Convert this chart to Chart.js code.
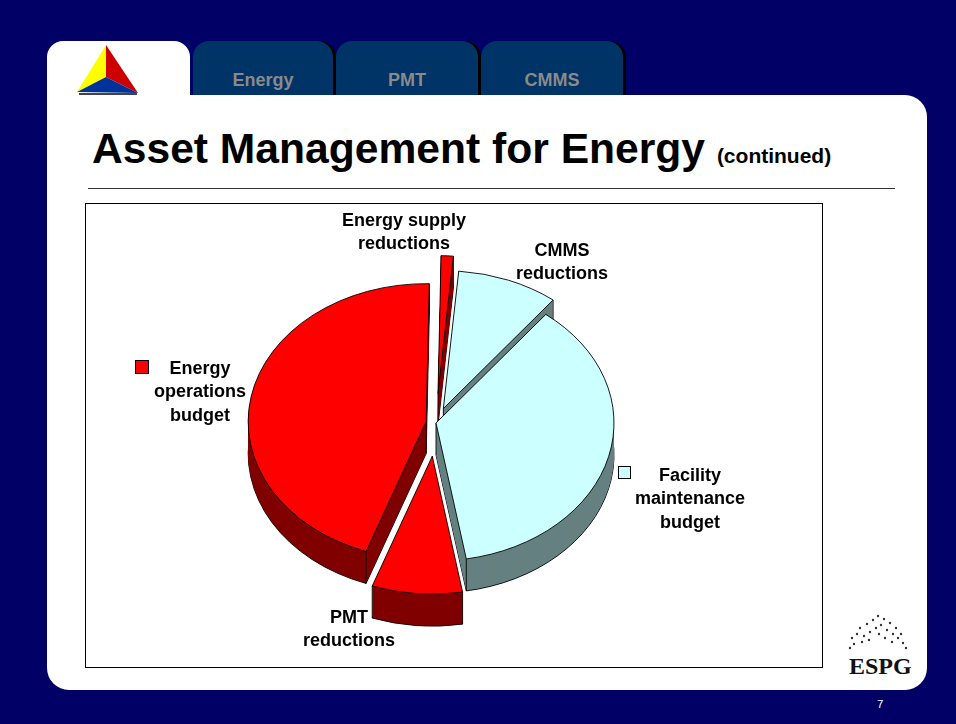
<!DOCTYPE html>
<html>
<head>
<meta charset="utf-8">
<script src="https://cdn.jsdelivr.net/npm/chart.js@4.4.0/dist/chart.umd.min.js"></script>
<style>
	body { margin: 0; width: 956px; height: 724px; background: #000066; position: relative; overflow: hidden; font-family: "Liberation Sans", Arial, sans-serif; }
	.tab { position: absolute; top: 41px; height: 54px; background: #003366; border-radius: 16px 16px 0 0; box-shadow: 3px 0 0 #000; color: #8a8a8a; font-weight: bold; font-size: 18px; line-height: 20px; text-align: center; box-sizing: border-box; padding-top: 29px; }
	.home { position: absolute; left: 47px; top: 41px; width: 143px; height: 60px; background: #fff; border-radius: 16px 16px 0 0; }
	.panel { position: absolute; left: 47px; top: 95px; width: 880px; height: 595px; background: #fff; border-radius: 0 22px 22px 22px; }
	.title { position: absolute; left: 92px; top: 124px; font-size: 42.6px; line-height: 48px; font-weight: bold; color: #000; white-space: nowrap; }
	.title span { font-size: 21px; }
	.rule { position: absolute; left: 88px; top: 188px; width: 807px; height: 1px; background: #333; }
	.box { position: absolute; left: 85px; top: 203px; width: 738px; height: 465px; border: 1px solid #000; box-sizing: border-box; }
	#pie { position: absolute; left: 85px; top: 203px; }
	.num { position: absolute; left: 877px; top: 698px; color: #fff; font-size: 11.5px; }
</style>
</head>
<body>
<div class="home"></div>
<svg style="position:absolute;left:70px;top:40px" width="80" height="60">
	<polygon points="36,5 7,52 36,37" fill="#ffff00"/>
	<polygon points="36,5 36,37 68,53" fill="#cc0000"/>
	<polygon points="7,52 36,37 68,53" fill="#003399"/>
	<line x1="9" y1="54" x2="67" y2="54" stroke="#444" stroke-width="2"/>
</svg>
<div class="tab" style="left:193px;width:140px">Energy</div>
<div class="tab" style="left:336px;width:142px">PMT</div>
<div class="tab" style="left:481px;width:142px">CMMS</div>
<div class="panel"></div>
<div class="title">Asset Management for Energy <span>(continued)</span></div>
<div class="rule"></div>
<div class="box"></div>
<canvas id="pie" width="738" height="465"></canvas>
<svg style="position:absolute;left:840px;top:610px" width="80" height="70">
	<g fill="#333">
		<circle cx="14" cy="34" r="1.2"/><circle cx="12" cy="28" r="1.2"/><circle cx="17" cy="24" r="1.2"/>
		<circle cx="20" cy="18" r="1.2"/><circle cx="24" cy="26" r="1.2"/><circle cx="27" cy="14" r="1.2"/>
		<circle cx="30" cy="22" r="1.2"/><circle cx="33" cy="10" r="1.2"/><circle cx="36" cy="18" r="1.2"/>
		<circle cx="38" cy="6" r="1.2"/><circle cx="41" cy="15" r="1.2"/><circle cx="44" cy="9" r="1.2"/>
		<circle cx="47" cy="20" r="1.2"/><circle cx="50" cy="13" r="1.2"/><circle cx="53" cy="24" r="1.2"/>
		<circle cx="56" cy="18" r="1.2"/><circle cx="58" cy="28" r="1.2"/><circle cx="61" cy="24" r="1.2"/>
		<circle cx="63" cy="33" r="1.2"/><circle cx="22" cy="32" r="1.2"/><circle cx="29" cy="30" r="1.2"/>
		<circle cx="45" cy="28" r="1.2"/><circle cx="52" cy="32" r="1.2"/><circle cx="66" cy="38" r="1.2"/>
		<circle cx="10" cy="38" r="1.2"/><circle cx="39" cy="24" r="1.2"/>
	</g>
	<text x="9" y="64" font-family="Liberation Serif, serif" font-weight="bold" font-size="24" fill="#111">ESPG</text>
</svg>
<div class="num">7</div>
<script>
// slices, clockwise from 12 o'clock
const categories = [
	["Energy supply", "reductions"],
	["CMMS", "reductions"],
	["Facility", "maintenance", "budget"],
	["PMT", "reductions"],
	["Energy", "operations", "budget"]
];
const shares = [1.1, 9.2, 36.7, 8.2, 44.8];
const topColors = ["#ff0000", "#ccffff", "#ccffff", "#ff0000", "#ff0000"];
const sideColors = ["#800000", "#668080", "#668080", "#800000", "#800000"];

// look of the fake 3d pie
const tilt = 0.775;
const depth = 32;
const explode = [38, 20, 0, 43, 10];
// label centres (canvas px) and legend key boxes
const labelPos = [[319, 18], [477, 48], [605, 273], [264, 415], [115, 166]];
const keyBox = { 2: [533, 263, 12], 4: [50, 157, 13] };

function drawSlice(ctx, arc, i, dy, fill, stroke, bw) {
	const mid = (arc.startAngle + arc.endAngle) / 2;
	const p = Object.create(arc);
	p.options = Object.assign({}, arc.options, {
		backgroundColor: fill, borderColor: stroke, borderWidth: bw, offset: 0
	});
	ctx.save();
	ctx.translate(Math.cos(mid) * explode[i], Math.sin(mid) * explode[i] + dy);
	p.draw(ctx);
	ctx.restore();
}

const pie3d = {
	id: "pie3d",
	beforeDatasetsDraw(chart) {
		const ctx = chart.ctx;
		const arcs = chart.getDatasetMeta(0).data;
		const cx = arcs[0].x, cy = arcs[0].y;
		const dz = depth / tilt;
		ctx.save();
		ctx.translate(cx, cy);
		ctx.scale(1, tilt);
		ctx.translate(-cx, -cy);
		// side walls, bottom up
		for (let d = depth; d >= 1; d--) {
			arcs.forEach((arc, i) => {
				const edge = d === depth;
				drawSlice(ctx, arc, i, d / tilt, sideColors[i], edge ? "#000" : sideColors[i], edge ? 1 : 0);
			});
		}
		// vertical edges
		ctx.strokeStyle = "#000";
		ctx.lineWidth = 1;
		arcs.forEach((arc, i) => {
			const mid = (arc.startAngle + arc.endAngle) / 2;
			const ox = arc.x + Math.cos(mid) * explode[i];
			const oy = arc.y + Math.sin(mid) * explode[i];
			const r = arc.outerRadius;
			const pts = [[ox, oy],
				[ox + Math.cos(arc.startAngle) * r, oy + Math.sin(arc.startAngle) * r],
				[ox + Math.cos(arc.endAngle) * r, oy + Math.sin(arc.endAngle) * r]];
			pts.forEach(pt => {
				ctx.beginPath();
				ctx.moveTo(pt[0], pt[1]);
				ctx.lineTo(pt[0], pt[1] + dz);
				ctx.stroke();
			});
		});
		// top faces
		arcs.forEach((arc, i) => drawSlice(ctx, arc, i, 0, topColors[i], "#000", 1));
		ctx.restore();
		return false;
	},
	afterDraw(chart) {
		const ctx = chart.ctx;
		ctx.save();
		ctx.font = "bold 18px 'Liberation Sans', Arial, sans-serif";
		ctx.fillStyle = "#000";
		ctx.textAlign = "center";
		ctx.textBaseline = "middle";
		chart.data.labels.forEach((lines, i) => {
			lines.forEach((t, k) => ctx.fillText(t, labelPos[i][0], labelPos[i][1] + k * 23.5));
			if (keyBox[i]) {
				const b = keyBox[i];
				ctx.fillStyle = topColors[i];
				ctx.fillRect(b[0] + 0.5, b[1] + 0.5, b[2], b[2]);
				ctx.strokeStyle = "#000";
				ctx.lineWidth = 1;
				ctx.strokeRect(b[0] + 0.5, b[1] + 0.5, b[2], b[2]);
				ctx.fillStyle = "#000";
			}
		});
		ctx.restore();
	}
};

new Chart(document.getElementById("pie"), {
	type: "pie",
	data: {
		labels: categories,
		datasets: [{
			data: shares,
			backgroundColor: topColors,
			borderColor: "#000",
			borderWidth: 1
		}]
	},
	options: {
		responsive: false,
		animation: false,
		radius: 178,
		rotation: 1,
		layout: { padding: { left: 0, right: 36, top: 0, bottom: 25 } },
		plugins: {
			legend: { display: false },
			tooltip: { enabled: false }
		}
	},
	plugins: [pie3d]
});
</script>
</body>
</html>
